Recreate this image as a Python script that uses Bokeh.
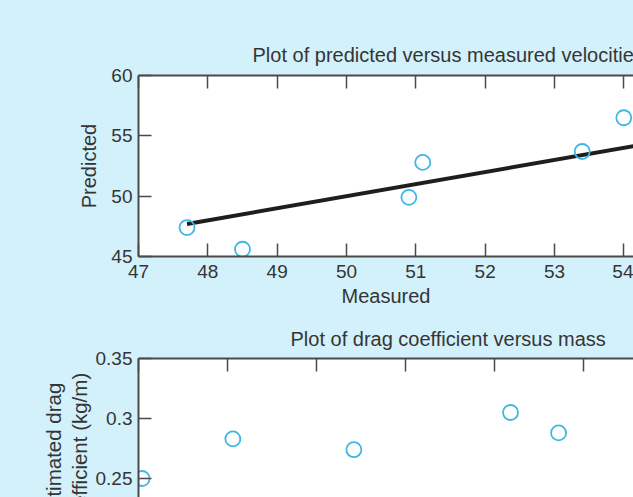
from bokeh.plotting import figure
from bokeh.models import (Range1d, LinearAxis, FixedTicker, Title, CustomJSTickFormatter)
from bokeh.layouts import column
from bokeh.embed import file_html
from bokeh.resources import INLINE

# ---- data ----
measured = [47.7, 48.5, 50.9, 51.1, 53.4, 54.0]
predicted = [47.4, 45.6, 49.9, 52.8, 53.7, 56.5]
fit_x = [47.7, 55.7]
fit_y = [47.7, 55.7]

mass = [60.2, 65.3, 72.1, 80.9, 83.6]
drag = [0.250, 0.283, 0.274, 0.305, 0.288]

top_xticks = [47, 48, 49, 50, 51, 52, 53, 54]
top_yticks = [45, 50, 55, 60]
bot_xticks = [60, 65, 70, 75, 80, 85]
bot_yticks = [0.2, 0.25, 0.3, 0.35]

title1 = "Plot of predicted versus measured velocities"
title2 = "Plot of drag coefficient versus mass"
ylabel2_a = "Estimated drag"
ylabel2_b = "coefficient (kg/m)"

BG = "#d3f1fb"
AX = "#4a4a4a"
TXT = "#353535"
CYAN = "#3db8e6"
FONT = "Liberation Sans"


def style_axis(ax, ticks, labels=True):
    ax.ticker = FixedTicker(ticks=ticks)
    ax.axis_line_color = AX
    ax.axis_line_width = 2
    ax.major_tick_line_color = AX
    ax.major_tick_line_width = 1.5
    ax.major_tick_in = 13
    ax.major_tick_out = 0
    ax.minor_tick_line_color = None
    ax.major_label_text_font = FONT
    ax.major_label_text_color = TXT
    ax.major_label_text_font_size = "19px"
    ax.major_label_standoff = 6
    if not labels:
        ax.formatter = CustomJSTickFormatter(code="return ''")
        ax.major_label_standoff = 0
    ax.axis_label_text_font = FONT
    ax.axis_label_text_font_size = "20px"
    ax.axis_label_text_font_style = "normal"
    ax.axis_label_text_color = TXT


def make_title(text, offset, standoff, size="20px", valign="bottom"):
    t = Title(text=text, align="left", offset=offset, standoff=standoff,
              vertical_align=valign)
    t.text_font = FONT
    t.text_font_size = size
    t.text_font_style = "normal"
    t.text_color = TXT
    return t


# ---- top figure ----
p1 = figure(width=633, height=320, output_backend="svg", toolbar_location=None,
            x_range=Range1d(47, 47 + 495 / 69.33), y_range=Range1d(45, 60),
            x_axis_location=None, y_axis_location=None,
            min_border_left=138, min_border_top=75, min_border_bottom=64, min_border_right=0)
p1.background_fill_color = "white"
p1.border_fill_color = BG
p1.outline_line_color = None
p1.grid.visible = False

la = LinearAxis(axis_label="Predicted", axis_label_standoff=8)
style_axis(la, top_yticks)
p1.add_layout(la, "left")
ba = LinearAxis(axis_label="Measured", axis_label_standoff=4)
style_axis(ba, top_xticks)
ba.major_label_standoff = 8
p1.add_layout(ba, "below")
ta = LinearAxis()
style_axis(ta, top_xticks, labels=False)
p1.add_layout(ta, "above")
p1.add_layout(make_title(title1, 252 - 138, 19), "above")

p1.line(fit_x, fit_y, line_color="#1e1e1e", line_width=4)
p1.scatter(measured, predicted, marker="circle", size=15, fill_color=None,
           line_color=CYAN, line_width=1.8)

# ---- bottom figure ----
p2 = figure(width=633, height=177, output_backend="svg", toolbar_location=None,
            x_range=Range1d(60, 60 + 495 / 17.8), y_range=Range1d(0.35 - 139 / 1200, 0.35),
            x_axis_location=None, y_axis_location=None,
            min_border_left=138, min_border_top=38, min_border_bottom=0, min_border_right=0)
p2.background_fill_color = "white"
p2.border_fill_color = BG
p2.outline_line_color = None
p2.grid.visible = False

la2 = LinearAxis()
style_axis(la2, bot_yticks)
la2.major_label_overrides = {0.2: "0.2", 0.25: "0.25", 0.3: "0.3", 0.35: "0.35"}
p2.add_layout(la2, "left")
ta2 = LinearAxis()
style_axis(ta2, bot_xticks, labels=False)
p2.add_layout(ta2, "above")
p2.add_layout(make_title(title2, 290 - 138, 14, valign="top"), "above")
p2.add_layout(make_title(ylabel2_b, -31, 3, "20.5px"), "left")
p2.add_layout(make_title(ylabel2_a, -23, 0, "20.5px"), "left")

p2.scatter(mass, drag, marker="circle", size=15, fill_color=None,
           line_color=CYAN, line_width=1.8)

layout = column(p1, p2, spacing=0, background=BG)
open("out.html", "w").write(file_html(layout, INLINE))
